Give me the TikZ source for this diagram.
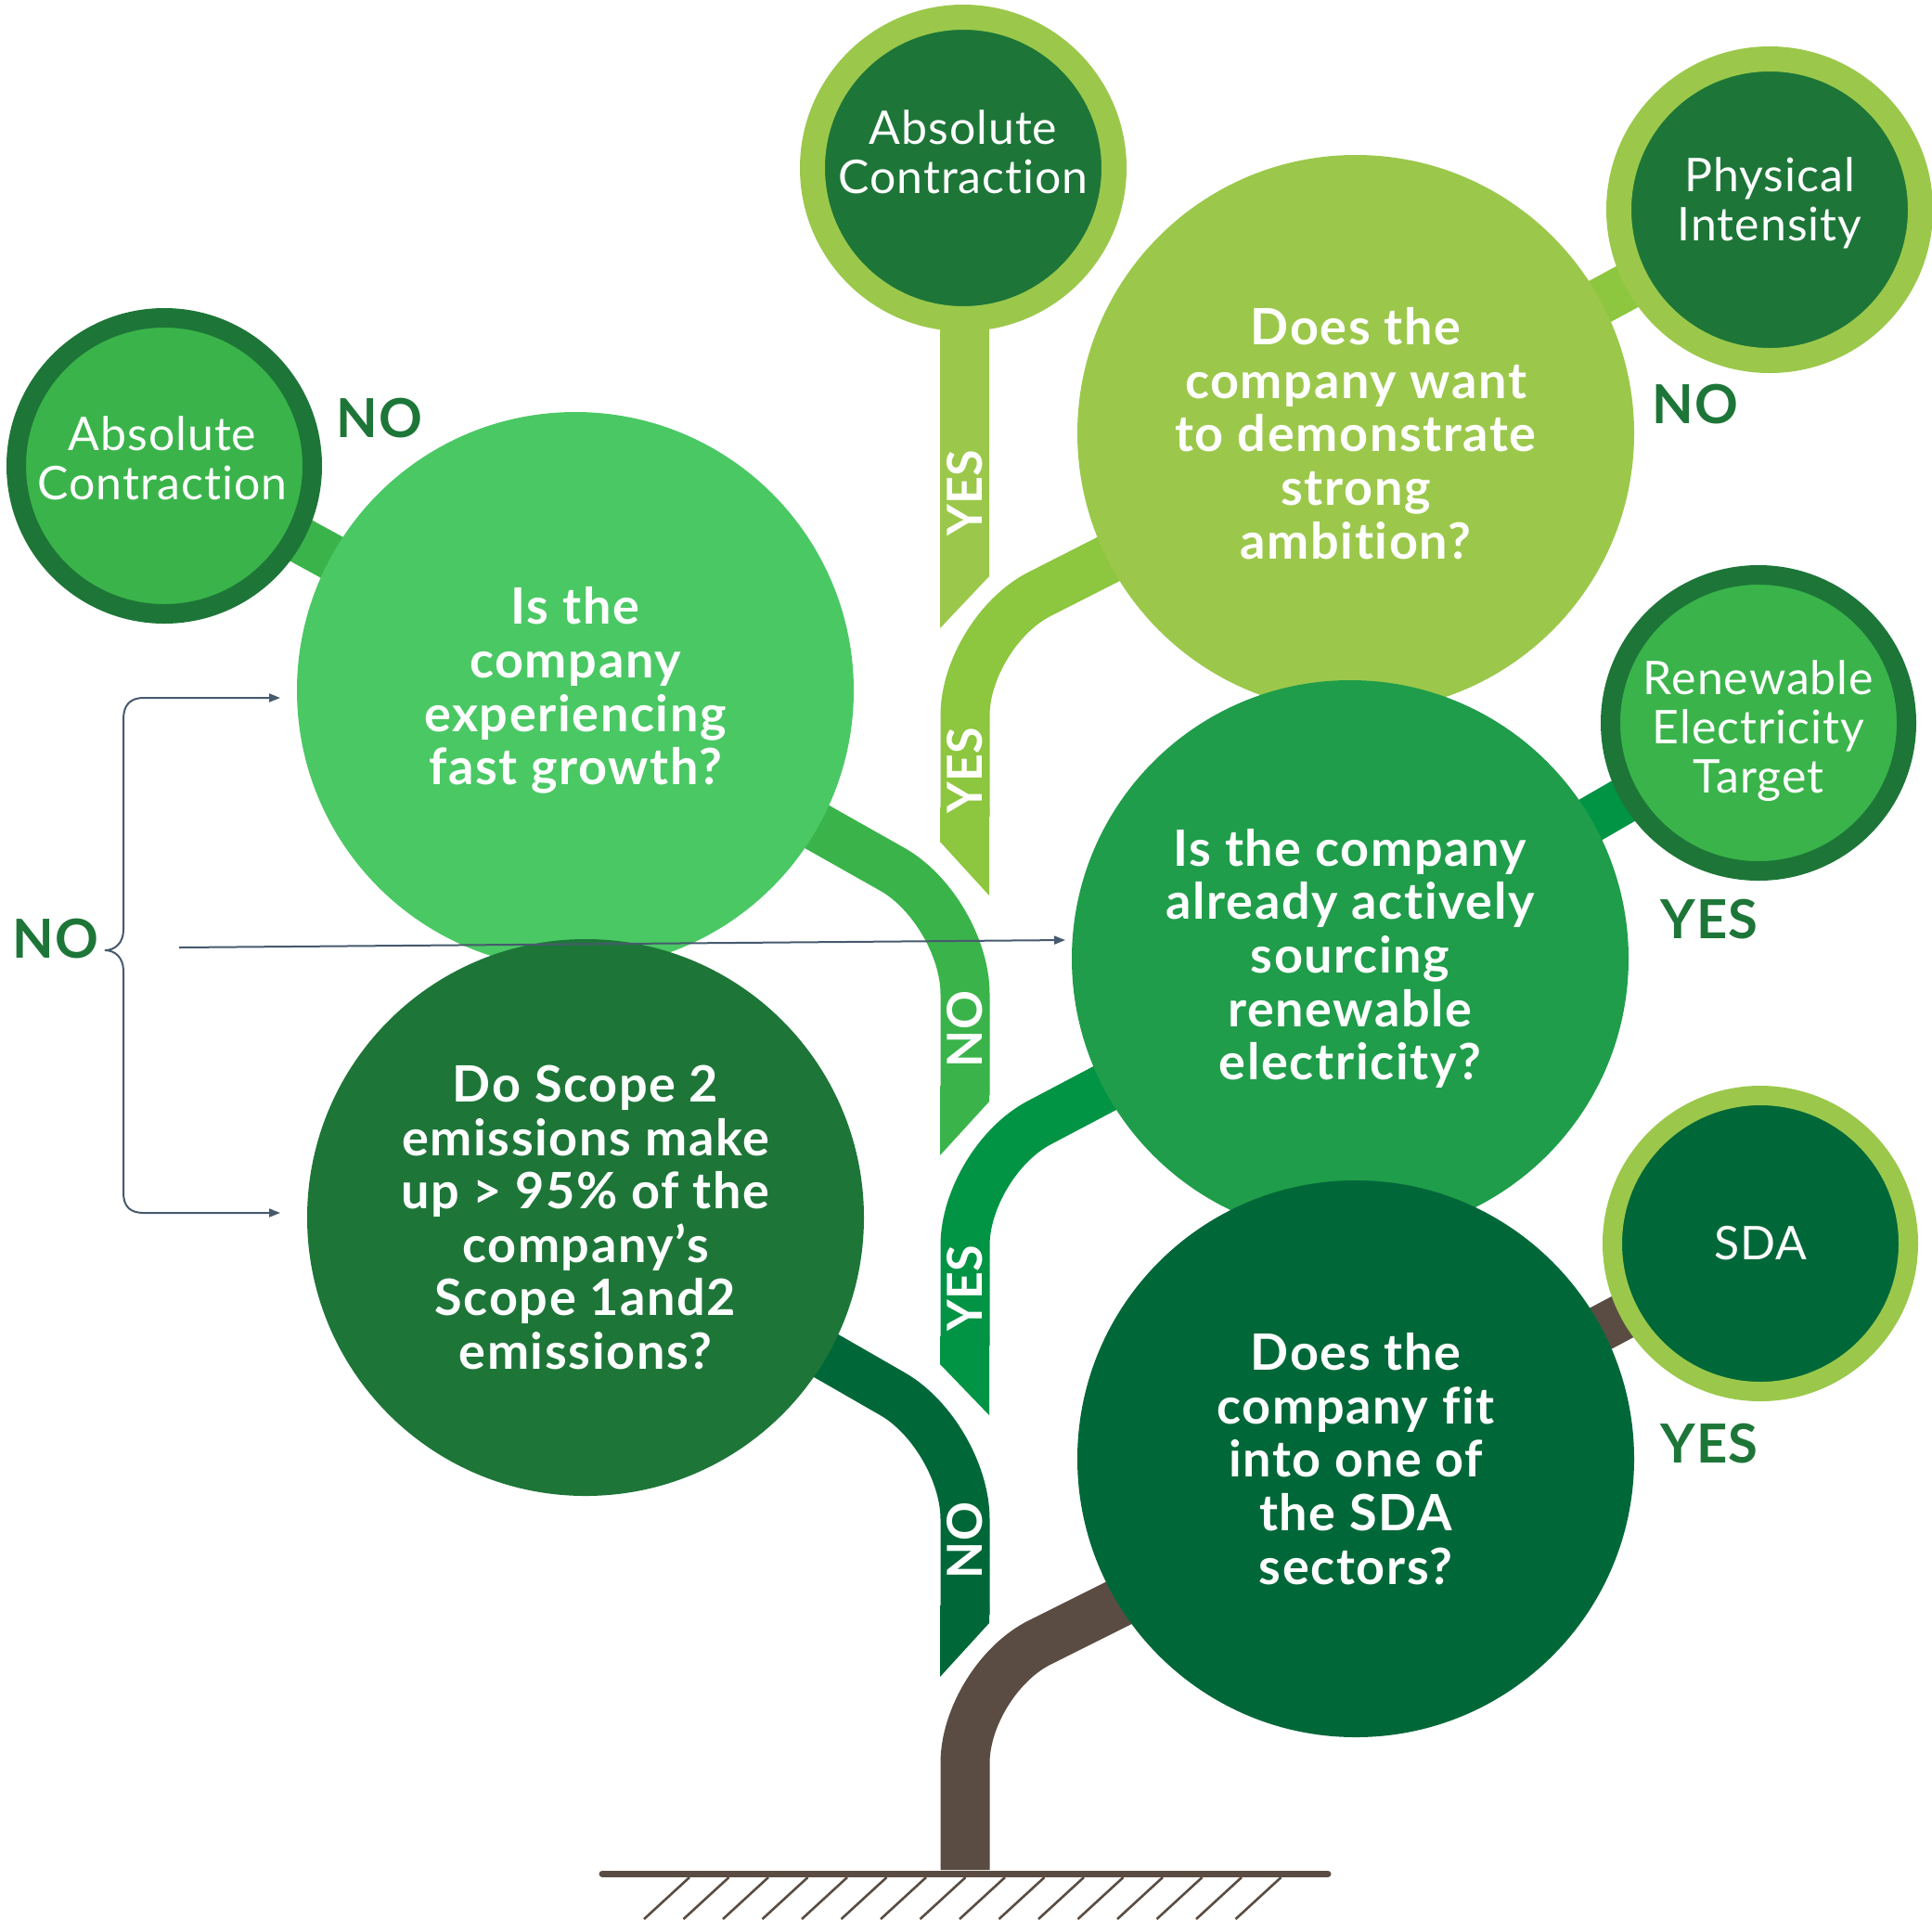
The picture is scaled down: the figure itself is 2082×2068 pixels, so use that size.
\documentclass[tikz,border=0pt]{standalone}
\usepackage{fontspec}
\setmainfont{Lato}[Ligatures=NoCommon]
\usetikzlibrary{arrows.meta}
\definecolor{leafLight}{HTML}{9BC84B}
\definecolor{leafLime}{HTML}{8DC63F}
\definecolor{leafBright}{HTML}{4AC864}
\definecolor{leafMid}{HTML}{3AB44A}
\definecolor{leafDark}{HTML}{1D7638}
\definecolor{leafDeep}{HTML}{1F9D4A}
\definecolor{leafBand}{HTML}{009444}
\definecolor{leafForest}{HTML}{006838}
\definecolor{bark}{HTML}{5A4C42}
\definecolor{wire}{HTML}{475A6E}

\begin{document}
\begin{tikzpicture}[x=.5pt, y=-.5pt,
    question/.style={circle, minimum size=300pt, inner sep=0pt, outer sep=0pt,
      text=white, align=center,
      font=\bfseries\fontsize{27}{28.8}\selectfont\addfontfeatures{LetterSpace=3}},
    outcome/.style={circle, minimum size=159.5pt, line width=10.5pt, inner sep=0pt, outer sep=0pt},
    bigring/.style={outcome, minimum size=162.5pt, line width=13.5pt},
    ringtext/.style={text=white, align=center,
      font=\fontsize{25}{26.5}\selectfont\addfontfeatures{LetterSpace=2}},
    answer/.style={text=leafDark, font=\bfseries\fontsize{29}{30}\selectfont\addfontfeatures{LetterSpace=2}},
    tag/.style={text=white, rotate=90, font=\bfseries\fontsize{26}{26}\selectfont},
    branch/.style={line width=26.5pt, preaction={draw=white, line width=41.5pt}},
    twig/.style={line width=25pt},
    >={Triangle[length=6pt, width=4.5pt]}]
  \useasboundingbox (0,0) rectangle (2082,2068);
  % centres
  \coordinate (ambition) at (1461,467);
  \coordinate (growth) at (620,744);
  \coordinate (sourcing) at (1455,1033);
  \coordinate (scope) at (631,1312);
  \coordinate (sector) at (1461,1572);
  \coordinate (absTop) at (1038,181);
  \coordinate (physical) at (1907,226);
  \coordinate (absLeft) at (177,502);
  \coordinate (renewable) at (1895,779);
  \coordinate (sda) at (1897,1340);
  % side twigs
  \draw[twig, leafMid] (growth) -- (absLeft);
  \draw[twig, leafLime] (ambition) -- (physical);
  \draw[twig, leafBand] (sourcing) -- (renewable);
  \draw[twig, bark] (sector) -- (sda);
  % trunk, top to bottom
  \fill[leafLight] (1013,300) -- (1066,300) -- (1066,621) -- (1013,677) -- cycle;
  \draw[branch, leafLime, rounded corners=45pt] (ambition) -- (1040,681) -- (1040,880);
  \fill[leafLime] (1013,870) -- (1066,870) -- (1066,965) -- (1013,907) -- cycle;
  \draw[branch, leafMid, rounded corners=45pt] (growth) -- (1040,981) -- (1040,1180);
  \fill[leafMid] (1013,1170) -- (1066,1170) -- (1066,1187) -- (1013,1245) -- cycle;
  \draw[branch, leafBand, rounded corners=45pt] (sourcing) -- (1040,1252) -- (1040,1450);
  \fill[leafBand] (1013,1440) -- (1066,1440) -- (1066,1525) -- (1013,1470) -- cycle;
  \draw[branch, leafForest, rounded corners=45pt] (scope) -- (1040,1547) -- (1040,1740);
  \fill[leafForest] (1013,1730) -- (1066,1730) -- (1066,1749) -- (1013,1807) -- cycle;
  \draw[branch, bark, rounded corners=45pt] ([yshift=-14pt]sector) -- (1040,1810) -- (1040,2015);
  % ground
  \draw[bark, line width=3.5pt, line cap=round] (649,2019) -- (1431,2019);
  \foreach \i in {0,...,15}
    \draw[bark, line width=1.3pt] (743+42.5*\i,2023) -- (694+42.5*\i,2068);
  % questions
  \node[question, fill=leafLight] (ambitionQ) at (ambition)
    {Does the\\company want\\to demonstrate\\strong\\ambition?};
  \node[question, fill=leafBright] (growthQ) at (growth)
    {Is the\\company\\experiencing\\fast growth?};
  \node[question, fill=leafDeep] (sourcingQ) at (sourcing)
    {Is the company\\already actively\\sourcing\\renewable\\electricity?};
  \node[question, fill=leafDark] (scopeQ) at (scope)
    {Do Scope 2\\emissions make\\up > 95\% of the\\company’s\\Scope 1and2\\emissions?};
  \node[question, fill=leafForest] (sectorQ) at (sector)
    {Does the\\company fit\\into one of\\the SDA\\sectors?};
  % outcomes
  \node[bigring, draw=leafLight, fill=leafDark] (absTopR) at (absTop) {};
  \node[bigring, draw=leafLight, fill=leafDark] (physicalR) at (physical) {};
  \node[outcome, draw=leafDark, fill=leafMid] (absLeftR) at (absLeft) {};
  \node[outcome, draw=leafDark, fill=leafMid] (renewableR) at (renewable) {};
  \node[outcome, draw=leafLight, fill=leafForest] (sdaR) at (sda) {};
  \node[ringtext] (absTopT) at (1038,164) {Absolute\\Contraction};
  \node[ringtext] (physicalT) at (1907,219) {Physical\\Intensity};
  \node[ringtext] (absLeftT) at (175,494) {Absolute\\Contraction};
  \node[ringtext] (renewableT) at (1895,788) {Renewable\\Electricity\\Target};
  \node[ringtext] (sdaT) at (1897,1340) {SDA};
  % trunk labels
  \node[tag] (tagA) at (1040,531) {YES};
  \node[tag] (tagB) at (1040,830) {YES};
  \node[tag] (tagC) at (1040,1109) {NO};
  \node[tag] (tagD) at (1040,1388) {YES};
  \node[tag] (tagE) at (1040,1660) {NO};
  % answers
  \node[answer] (noAbs) at (409,451) {NO};
  \node[answer] (noPhys) at (1827,436) {NO};
  \node[answer] (yesRen) at (1842,991) {YES};
  \node[answer] (yesSda) at (1842,1556) {YES};
  \node[answer] (noAll) at (60,1012) {NO};
  % brace and arrows
  \coordinate (braceTop) at (155,752);
  \coordinate (braceTip) at (113,1024);
  \coordinate (braceBot) at (155,1307);
  \coordinate (noStart) at (193,1021);
  \coordinate (noEnd) at (1148,1013);
  \draw[wire, line width=1pt, <->, shorten <=9pt, shorten >=14.5pt]
    (braceTop -| growthQ.west) -- (braceTop)
    .. controls (140,752) and (133,760) .. (133,775) -- (133,1002)
    .. controls (133,1016) and (124,1024) .. (braceTip)
    .. controls (124,1024) and (133,1032) .. (133,1046) -- (133,1285)
    .. controls (133,1300) and (140,1307) .. (braceBot)
    -- (braceBot -| scopeQ.west);
  \draw[wire, line width=1pt, ->] (noStart) -- (noEnd);
\end{tikzpicture}
\end{document}
